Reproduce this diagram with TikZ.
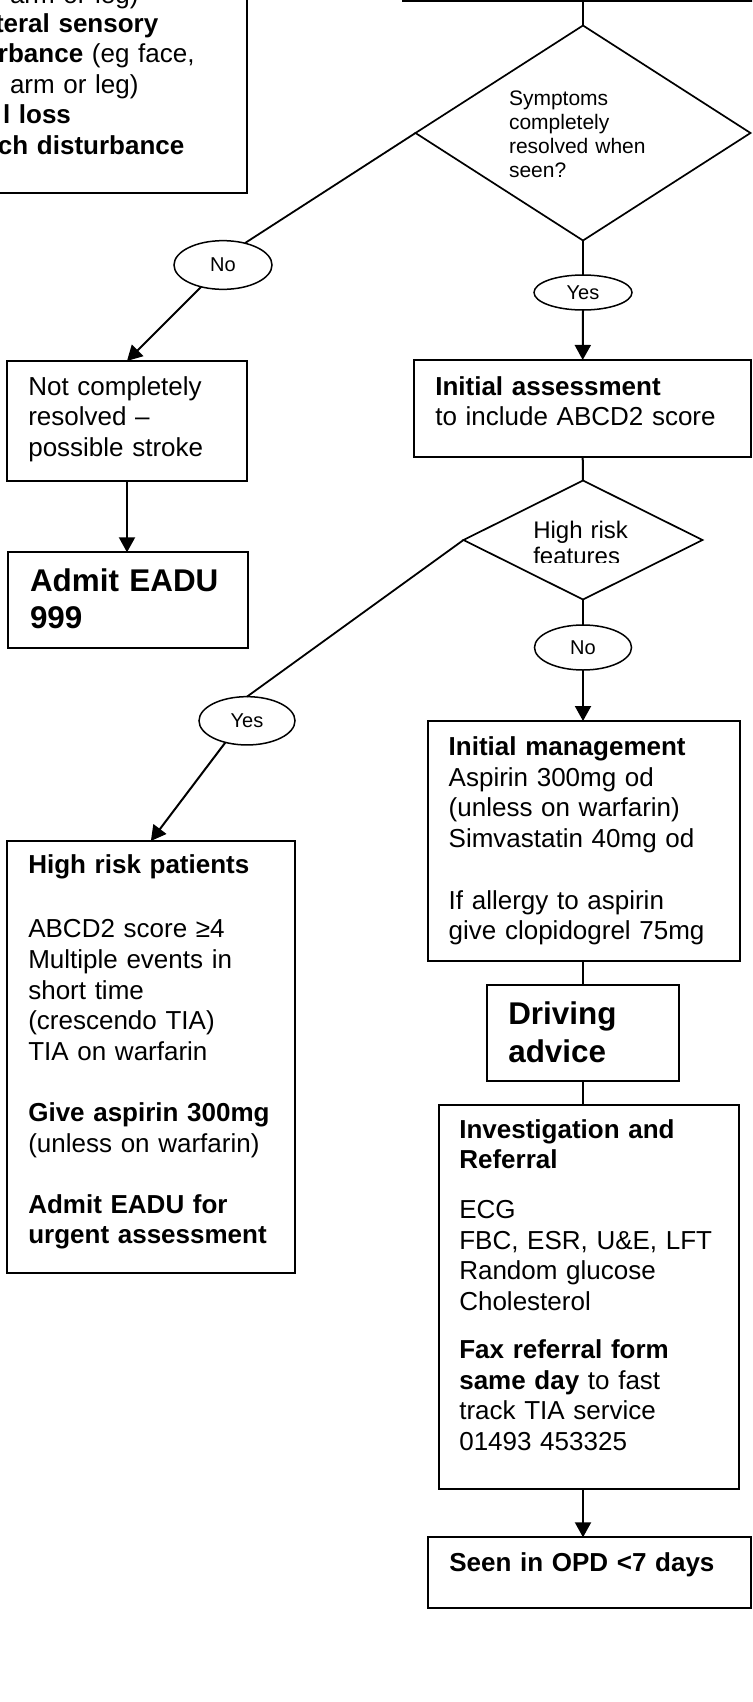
\documentclass[tikz,border=0pt]{standalone}
\usepackage{fontspec}
\setmainfont{Liberation Sans}
\usetikzlibrary{shapes.geometric,arrows.meta}
\newcommand\myfmain{\fontsize{26}{30.6}\selectfont}
\newcommand\myfdia{\fontsize{21}{24}\selectfont}
\newcommand\myfdiab{\fontsize{24}{26.5}\selectfont}
\newcommand\myfell{\fontsize{20}{23}\selectfont}
\newcommand\myfbig{\fontsize{31.4}{36.3}\selectfont}
\newcommand\myfbigb{\fontsize{31.4}{38}\selectfont}
\begin{document}
\begin{tikzpicture}[x=1pt,y=-1pt,
  boxnode/.style={draw, line width=2.2pt, rectangle, inner sep=0pt, outer sep=0pt},
  dia/.style={draw, diamond, line width=1.7pt, inner sep=0pt, outer sep=0pt},
  ell/.style={draw, ellipse, line width=1.5pt, inner sep=0pt, outer sep=0pt, font=\myfell},
  txt/.style={anchor=base west, inner sep=0pt, outer sep=0pt, align=left, text width=#1},
  conn/.style={line width=2pt},
  diag/.style={line width=1.8pt},
  arr/.style={line width=2pt, -{Triangle[length=15pt,width=16pt]}}]
\path[use as bounding box] (0,0) rectangle (752,1702);
\clip (0,0) rectangle (752,1702);
\fill[white] (0,0) rectangle (752,1702);

% boxes
\node[boxnode, minimum width=277, minimum height=223] (tl) at (108.5,81.5) {};
\node[boxnode, minimum width=397, minimum height=51] (top) at (601.5,-24.5) {};
\node[dia, minimum width=335, minimum height=215] (d1) at (583,133) {};
\node[ell, minimum width=98, minimum height=48.7] (no1) at (223,265) {No};
\node[ell, minimum width=98, minimum height=35] (yes1) at (583,292.5) {Yes};
\node[boxnode, minimum width=240.6, minimum height=119.7] (nc) at (127,420.8) {};
\node[boxnode, minimum width=240.6, minimum height=96] (admit) at (128,600.3) {};
\node[boxnode, minimum width=336.7, minimum height=96.7] (ia) at (582.7,408.3) {};
\node[dia, minimum width=239, minimum height=119] (d2) at (583,540) {};
\node[ell, minimum width=97, minimum height=45] (no2) at (583,647.5) {No};
\node[ell, minimum width=96, minimum height=48.3] (yes2) at (247,720.8) {Yes};
\node[boxnode, minimum width=288.3, minimum height=431.7] (hr) at (150.9,1056.8) {};
\node[boxnode, minimum width=312.6, minimum height=240] (im) at (584,841) {};
\node[boxnode, minimum width=192.6, minimum height=96] (drv) at (583,1033) {};
\node[boxnode, minimum width=300.6, minimum height=384] (inv) at (589,1297) {};
\node[boxnode, minimum width=323.3, minimum height=71] (seen) at (589.3,1572.8) {};

% texts
\node[txt=300, font=\myfmain] (tla) at (10,3.5) {arm or leg)};
\node[txt=300, font=\myfmain\bfseries] (tlb) at (-5,32.5) {teral sensory};
\node[txt=300, font=\myfmain] (tlc) at (-2,63) {\textbf{rbance} (eg face,};
\node[txt=300, font=\myfmain] (tld) at (10,93) {arm or leg)};
\node[txt=300, font=\myfmain\bfseries] (tle) at (3,123) {l loss};
\node[txt=300, font=\myfmain\bfseries] (tlf) at (-2,154) {ch disturbance};

\node[txt=220, font=\myfdia] (d1t) at (509,105) {Symptoms\\completely\\resolved when\\seen?};
\begin{scope}
\clip (400,470) rectangle (720,562.5);
\node[txt=200, font=\myfdiab] (d2t) at (533.3,538) {High risk\\features};
\end{scope}

\node[txt=330, font=\myfmain] (nct) at (28.3,395) {Not completely\\resolved –\\possible stroke};
\node[txt=330, font=\myfbig\bfseries] (admitt) at (30,591.7) {Admit EADU\\999};
\node[txt=330, font=\myfmain] (iat) at (435.3,395) {\textbf{Initial assessment}\\to include ABCD2 score};
\node[txt=330, font=\myfmain] (hrt) at (28.3,873.3) {\textbf{High risk patients}\\[33.9pt]ABCD2 score ≥4\\Multiple events in\\short time\\(crescendo TIA)\\TIA on warfarin\\[30.6pt]\textbf{Give aspirin 300mg}\\(unless on warfarin)\\[30.6pt]\textbf{Admit EADU for}\\\textbf{urgent assessment}};
\node[txt=330, font=\myfmain] (imt) at (448.7,755.7) {\textbf{Initial management}\\Aspirin 300mg od\\(unless on warfarin)\\Simvastatin 40mg od\\[31pt]If allergy to aspirin\\give clopidogrel 75mg};
\node[txt=330, font=\myfbigb\bfseries] (drvt) at (508.3,1024) {Driving\\advice};
\node[txt=330, font=\myfmain] (invt) at (459.3,1138) {\textbf{Investigation and}\\\textbf{Referral}\\[19.4pt]ECG\\FBC, ESR, U\&E, LFT\\Random glucose\\Cholesterol\\[17.7pt]\textbf{Fax referral form}\\\textbf{same day} to fast\\track TIA service\\01493 453325};
\node[txt=330, font=\myfmain\bfseries] (seent) at (449.3,1571.7) {Seen in OPD <7 days};

% connectors
\draw[conn] (d1.north) -- (d1.north |- top.south);
\draw[diag] (d1.west) -- (no1.45);
\draw[arr] (no1.225) -- (nc.north);
\draw[arr] (nc.south) -- (nc.south |- admit.north);
\draw[conn] (d1.south) -- (yes1.north);
\draw[arr] (yes1.south) -- (ia.north);
\draw[conn] (ia.south) -- (d2.north);
\draw[diag] (d2.west) -- (yes2.north);
\draw[arr] (yes2.225) -- (hr.north);
\draw[conn] (d2.south) -- (no2.north);
\draw[arr] (no2.south) -- (im.north -| no2.south);
\draw[conn] (im.south -| drv.north) -- (drv.north);
\draw[conn] (drv.south) -- (drv.south |- inv.north);
\draw[arr] (inv.south -| drv.south) -- (seen.north -| drv.south);
\end{tikzpicture}
\end{document}
